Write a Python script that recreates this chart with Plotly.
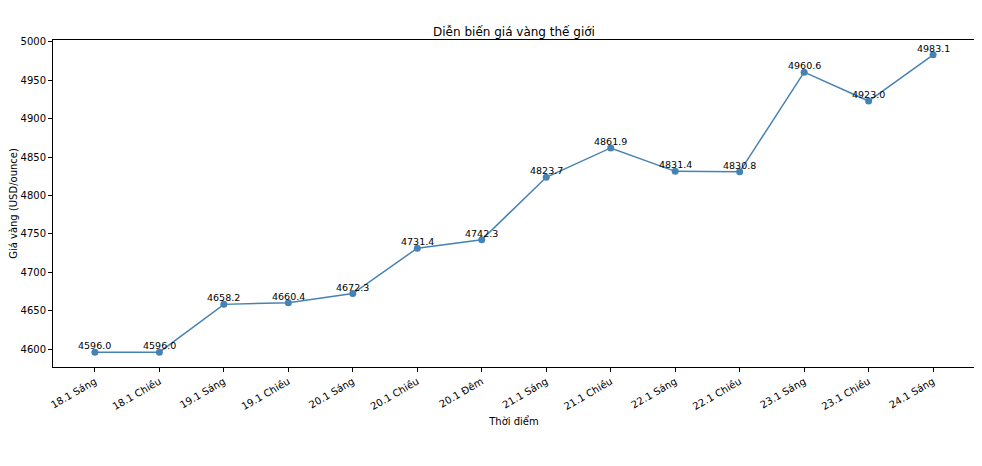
import plotly.graph_objects as go

categories = ["18.1 Sáng", "18.1 Chiều", "19.1 Sáng", "19.1 Chiều", "20.1 Sáng", "20.1 Chiều",
              "20.1 Đêm", "21.1 Sáng", "21.1 Chiều", "22.1 Sáng", "22.1 Chiều", "23.1 Sáng",
              "23.1 Chiều", "24.1 Sáng"]
prices = [4596.0, 4596.0, 4658.2, 4660.4, 4672.3, 4731.4, 4742.3, 4823.7, 4861.9,
          4831.4, 4830.8, 4960.6, 4923.0, 4983.1]
y_ticks = [4600, 4650, 4700, 4750, 4800, 4850, 4900, 4950, 5000]

FONT = "DejaVu Sans"
xs = list(range(len(categories)))

fig = go.Figure()
fig.add_trace(go.Scatter(
    x=xs, y=prices, mode="lines+markers",
    line=dict(color="#4682b4", width=1.5),
    marker=dict(color="#4682b4", size=7),
    showlegend=False,
))

for xi, v in zip(xs, prices):
    fig.add_annotation(x=xi, y=v, text=f"{v:.1f}", showarrow=False,
                       xanchor="center", yanchor="bottom", yshift=-1,
                       font=dict(family=FONT, size=9.5, color="black"))

pad_y = (max(prices) - min(prices)) * 0.05
pad_x = (len(categories) - 1) * 0.05

# page body has an 8px default margin, so the figure is sized/offset to compensate
fig.update_layout(
    width=974, height=458,
    margin=dict(l=45, r=7, t=32, b=99, autoexpand=False),
    paper_bgcolor="white", plot_bgcolor="white",
    font=dict(family=FONT, size=10, color="black"),
    title=dict(text="Diễn biến giá vàng thế giới", x=0.5, xref="paper",
               y=1, yref="paper", yanchor="bottom", pad=dict(b=4),
               font=dict(family=FONT, size=12, color="black")),
    xaxis=dict(
        range=[-pad_x, len(categories) - 1 + pad_x],
        tickmode="array", tickvals=xs, ticktext=categories, tickangle=-30,
        showgrid=False, zeroline=False, automargin=False,
        showline=True, linecolor="black", linewidth=1, mirror=True,
        ticks="outside", ticklen=4, tickcolor="black",
        tickfont=dict(family=FONT, size=10),
        title=dict(text="Thời điểm", font=dict(family=FONT, size=10), standoff=6),
    ),
    yaxis=dict(
        range=[min(prices) - pad_y, max(prices) + pad_y],
        tickmode="array", tickvals=y_ticks,
        showgrid=False, zeroline=False, automargin=False,
        showline=True, linecolor="black", linewidth=1, mirror=True,
        ticks="outside", ticklen=4, tickcolor="black",
        tickfont=dict(family=FONT, size=10),
        title=dict(text="Giá vàng (USD/ounce)", font=dict(family=FONT, size=10), standoff=6),
    ),
)

fig.write_html("out.html")
